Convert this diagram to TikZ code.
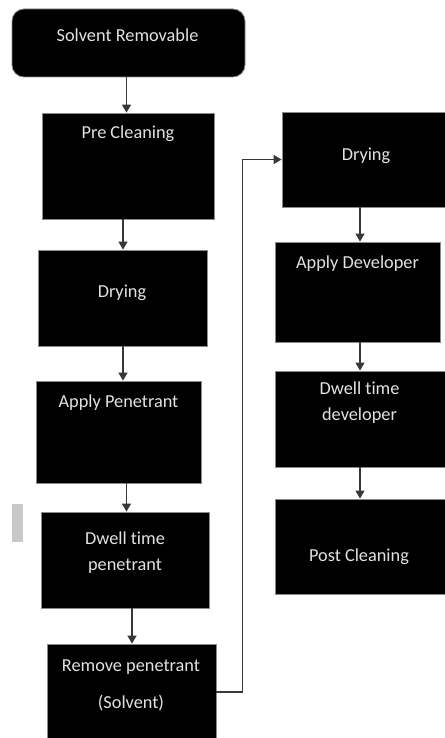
\documentclass[tikz,border=0pt]{standalone}
\usepackage{fontspec}
\setmainfont{Carlito}[Ligatures=NoCommon]
\usetikzlibrary{arrows.meta}
\definecolor{lbltext}{HTML}{E2E2E2}
\definecolor{boxedge}{HTML}{8A8A8A}
\definecolor{wire}{HTML}{383838}
\definecolor{tab}{HTML}{C8C8C8}
\tikzset{
  stepbox/.style={draw=boxedge, line width=0.8pt, fill=black, inner sep=0pt},
  lbl/.style={text=lbltext, font=\fontsize{18.3}{26}\selectfont, align=center, inner sep=0pt},
  arr/.style={draw=wire, line width=1.3pt, -{Triangle[width=9pt,length=8pt]}},
}
\begin{document}
\begin{tikzpicture}[x=1pt,y=-1pt]
\useasboundingbox (0,0) rectangle (444,738);

% left column
\node[stepbox, rounded corners=12pt, minimum width=233pt, minimum height=68pt] (start) at (128.5,43) {};
\node[lbl] (startT) at (127.5,35) {Solvent Removable};

\node[stepbox, minimum width=172pt, minimum height=106pt] (pre) at (128,166) {};
\node[lbl] (preT) at (128,134) {Pre Cleaning};

\node[stepbox, minimum width=169pt, minimum height=96pt] (dry1) at (122.5,298) {};
\node[lbl] (dry1T) at (122,293) {Drying};

\node[stepbox, minimum width=165pt, minimum height=102pt] (pen) at (118.5,432) {};
\node[lbl] (penT) at (118.5,403) {Apply Penetrant};

\node[stepbox, minimum width=168pt, minimum height=96pt] (dwp) at (125,560) {};
\node[lbl] (dwpT) at (125,553) {Dwell time\\penetrant};

\node[stepbox, minimum width=169pt, minimum height=96pt] (rem) at (131.5,692) {};
\node[lbl] (remT) at (131,685) {Remove penetrant\\[11pt](Solvent)};

% right column
\node[stepbox, minimum width=164pt, minimum height=95pt] (dry2) at (364,159.5) {};
\node[lbl] (dry2T) at (366,156) {Drying};

\node[stepbox, minimum width=165pt, minimum height=100pt] (dev) at (357.5,292) {};
\node[lbl] (devT) at (357.5,264) {Apply Developer};

\node[stepbox, minimum width=171pt, minimum height=96pt] (dwd) at (360.5,419) {};
\node[lbl] (dwdT) at (359.5,403) {Dwell time\\developer};

\node[stepbox, minimum width=171pt, minimum height=95pt] (post) at (360.5,546.5) {};
\node[lbl] (postT) at (359,557) {Post Cleaning};

% side tab
\fill[tab] (12,504) rectangle (23,542);

% connectors
\draw[arr] ([xshift=-2pt]start.south) -- ([xshift=-2pt]start.south |- pre.north);
\draw[arr] ([xshift=-5pt]pre.south) -- ([xshift=-5pt]pre.south |- dry1.north);
\draw[arr] ([xshift=0.5pt]dry1.south) -- ([xshift=0.5pt]dry1.south |- pen.north);
\draw[arr] ([xshift=8pt]pen.south) -- ([xshift=8pt]pen.south |- dwp.north);
\draw[arr] ([xshift=7pt]dwp.south) -- ([xshift=7pt]dwp.south |- rem.north);
\draw[arr] (rem.east) -- ++(26,0) |- (dry2.west);
\draw[arr] ([xshift=2.5pt]dev.north |- dry2.south) -- ([xshift=2.5pt]dev.north);
\draw[arr] ([xshift=2.5pt]dev.south) -- ([xshift=2.5pt]dev.south |- dwd.north);
\draw[arr] ([xshift=-0.5pt]dwd.south) -- ([xshift=-0.5pt]dwd.south |- post.north);
\end{tikzpicture}
\end{document}
